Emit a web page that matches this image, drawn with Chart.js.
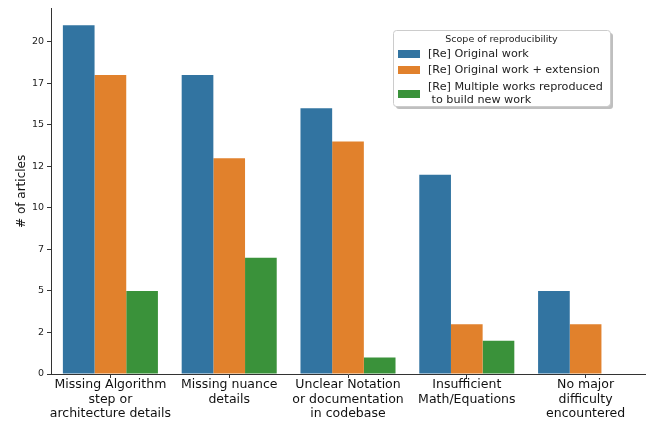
<!DOCTYPE html>
<html>
<head>
<meta charset="utf-8">
<script src="https://cdn.jsdelivr.net/npm/chart.js@4.4.1/dist/chart.umd.min.js"></script>
<style>
  html, body { margin: 0; padding: 0; background: #fff; }
  #wrap { width: 647px; height: 422px; position: relative; }
</style>
</head>
<body>
<div id="wrap"><canvas id="c"></canvas></div>
<script>
(function () {
  'use strict';

  var categories = [
    ['Missing Algorithm', 'step or', 'architecture details'],
    ['Missing nuance', 'details'],
    ['Unclear Notation', 'or documentation', 'in codebase'],
    ['Insufficient', 'Math/Equations'],
    ['No major', 'difficulty', 'encountered']
  ];
  var seriesNames = [
    '[Re] Original work',
    '[Re] Original work + extension',
    '[Re] Multiple works reproduced\n to build new work'
  ];
  var originalWork = [21, 18, 16, 12, 5];
  var withExtension = [18, 13, 14, 3, 3];
  var multipleWorks = [5, 7, 1, 2, 0];
  var yTicks = [0, 2.5, 5, 7.5, 10, 12.5, 15, 17.5, 20];
  var legendTitle = 'Scope of reproducibility';
  var yTitle = '# of articles';

  var COLORS = ['#3274a1', '#e1812c', '#3a923a'];
  var FONT = "'DejaVu Sans', sans-serif";

  // legend box drawn inside the plot, like matplotlib's loc="upper right"
  var legendPlugin = {
    id: 'innerLegend',
    afterDraw: function (chart) {
      var ctx = chart.ctx;
      var x = 393, y = 30, w = 217, h = 76;
      ctx.save();
      ctx.fillStyle = 'rgba(0,0,0,0.25)';
      roundRect(ctx, x + 3, y + 3, w, h, 3); ctx.fill();
      ctx.fillStyle = '#fff';
      roundRect(ctx, x, y, w, h, 3); ctx.fill();
      ctx.strokeStyle = '#cccccc'; ctx.lineWidth = 1;
      roundRect(ctx, x + 0.5, y + 0.5, w, h, 3); ctx.stroke();

      ctx.fillStyle = '#222';
      ctx.textBaseline = 'middle';
      ctx.textAlign = 'center';
      ctx.font = '9.5px ' + FONT;
      ctx.fillText(legendTitle, x + w / 2, y + 10);

      ctx.textAlign = 'left';
      ctx.font = '11.2px ' + FONT;
      var rowY = [y + 24, y + 40];
      chart.data.datasets.forEach(function (ds, i) {
        var lines = ds.label.split('\n');
        var ty = i < 2 ? rowY[i] : y + 57;
        var patchY = i < 2 ? ty : ty + 7;
        ctx.fillStyle = ds.backgroundColor;
        ctx.fillRect(x + 5, patchY - 4, 22, 8);
        ctx.fillStyle = '#222';
        lines.forEach(function (ln, j) {
          ctx.fillText(ln, x + 35, ty + j * 13);
        });
      });
      ctx.restore();
    }
  };

  function roundRect(ctx, x, y, w, h, r) {
    ctx.beginPath();
    ctx.moveTo(x + r, y);
    ctx.lineTo(x + w - r, y); ctx.quadraticCurveTo(x + w, y, x + w, y + r);
    ctx.lineTo(x + w, y + h - r); ctx.quadraticCurveTo(x + w, y + h, x + w - r, y + h);
    ctx.lineTo(x + r, y + h); ctx.quadraticCurveTo(x, y + h, x, y + h - r);
    ctx.lineTo(x, y + r); ctx.quadraticCurveTo(x, y, x + r, y);
    ctx.closePath();
  }

  var values = [originalWork, withExtension, multipleWorks];

  new Chart(document.getElementById('c').getContext('2d'), {
    type: 'bar',
    data: {
      labels: categories,
      datasets: values.map(function (v, i) {
        return {
          label: seriesNames[i],
          data: v,
          backgroundColor: COLORS[i],
          borderWidth: 0,
          categoryPercentage: 0.8,
          barPercentage: 1.0
        };
      })
    },
    options: {
      responsive: true,
      maintainAspectRatio: false,
      animation: false,
      layout: { padding: { top: 7, right: 2, left: 0, bottom: 0 } },
      plugins: {
        legend: { display: false },
        tooltip: { enabled: false }
      },
      scales: {
        x: {
          offset: true,
          grid: { display: true, offset: false, drawOnChartArea: false, drawTicks: true, tickLength: 4, color: '#333', tickColor: '#333' },
          border: { display: true, color: '#333', width: 1 },
          ticks: { color: '#111', font: { family: FONT, size: 12.5, lineHeight: 1.15 }, padding: 0, maxRotation: 0, autoSkip: false },
          afterFit: function (s) { s.height = 48; }
        },
        y: {
          min: 0,
          max: 22,
          afterBuildTicks: function (s) { s.ticks = yTicks.map(function (v) { return { value: v }; }); },
          grid: { display: true, drawOnChartArea: false, drawTicks: true, tickLength: 4, color: '#333', tickColor: '#333' },
          border: { display: true, color: '#333', width: 1 },
          ticks: {
            color: '#222', font: { family: FONT, size: 9.5 }, padding: 3,
            callback: function (v) { return String(Math.floor(v)); }
          },
          title: { display: true, text: yTitle, color: '#111', font: { family: FONT, size: 12 }, padding: { top: 15, bottom: 0 } },
          afterFit: function (s) { s.width = 51; }
        }
      }
    },
    plugins: [legendPlugin]
  });
})();
</script>
</body>
</html>
